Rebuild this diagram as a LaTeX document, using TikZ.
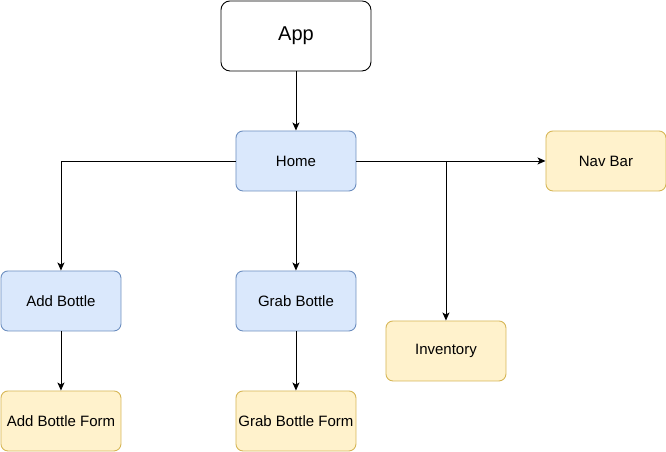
\documentclass[tikz,border=0pt]{standalone}
\usepackage{fontspec}
\setmainfont{Liberation Sans}
\usetikzlibrary{arrows.meta,positioning}
\definecolor{bluefill}{HTML}{DAE8FC}
\definecolor{blueline}{HTML}{6C8EBF}
\definecolor{yellowfill}{HTML}{FFF2CC}
\definecolor{yellowline}{HTML}{D6B656}
\begin{document}
\begin{tikzpicture}[x=1pt,y=-1pt,
  box/.style={draw, rounded corners=7pt, minimum width=120pt, minimum height=60pt, inner sep=0pt, line width=0.9pt, font=\fontsize{15}{18}\selectfont, anchor=north west},
  bluebox/.style={box, fill=bluefill, draw=blueline},
  yellowbox/.style={box, fill=yellowfill, draw=yellowline},
  appbox/.style={box, fill=white, draw=black, minimum width=150pt, minimum height=70pt, rounded corners=9pt, font=\fontsize{20}{24}\selectfont},
  conn/.style={line width=0.9pt, -{Stealth[length=8pt,width=7pt,inset=2pt]}}
]
\useasboundingbox (0,0) rectangle (666,451);
\node[appbox] (app) at (220.5,0.5) {App};
\node[bluebox] (home) at (235.5,130.5) {Home};
\node[yellowbox] (nav) at (545.5,130.5) {Nav Bar};
\node[bluebox] (add) at (0.5,270.5) {Add Bottle};
\node[bluebox] (grab) at (235.5,270.5) {Grab Bottle};
\node[yellowbox] (inv) at (385.5,320.5) {Inventory};
\node[yellowbox] (addf) at (0.5,390.5) {Add Bottle Form};
\node[yellowbox] (grabf) at (235.5,390.5) {Grab Bottle Form};
\coordinate (branch) at (inv.north |- home.east);
\draw[conn] (app) -- (home);
\draw[conn] (home.west) -| (add.north);
\draw[conn] (home.east) -- (nav.west);
\draw[conn] (branch) -- (inv.north);
\draw[conn] (home) -- (grab);
\draw[conn] (add) -- (addf);
\draw[conn] (grab) -- (grabf);
\end{tikzpicture}
\end{document}
